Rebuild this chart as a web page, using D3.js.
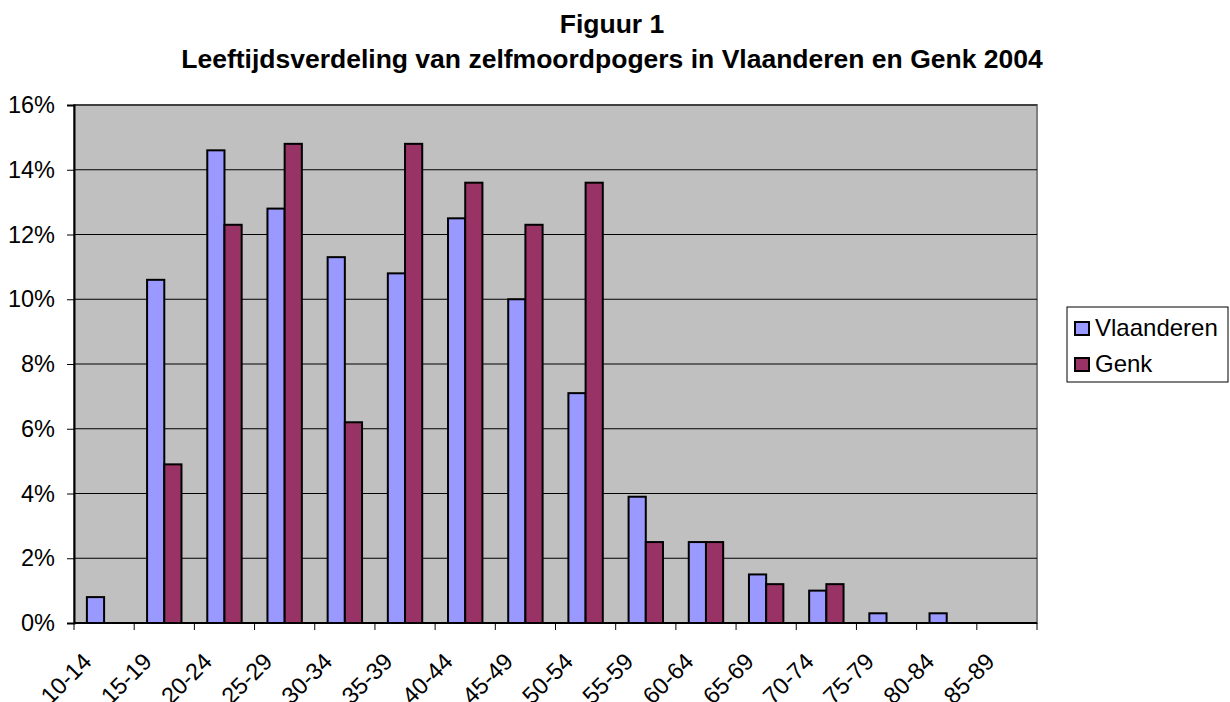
<!DOCTYPE html>
<html>
<head>
<meta charset="utf-8">
<script src="https://d3js.org/d3.v7.min.js"></script>
<style>
  body { margin: 0; background: #fff; }
  text { font-family: Arial, "Liberation Sans", sans-serif; }
</style>
</head>
<body>
<svg id="chart" width="1230" height="702"></svg>
<script>
// Age groups
const categories = ["10-14","15-19","20-24","25-29","30-34","35-39","40-44","45-49",
  "50-54","55-59","60-64","65-69","70-74","75-79","80-84","85-89"];
// Share of suicide attempters per age group (%)
const vlaanderen = [0.8, 10.6, 14.6, 12.8, 11.3, 10.8, 12.5, 10.0, 7.1, 3.9, 2.5, 1.5, 1.0, 0.3, 0.3, 0];
const genk       = [0, 4.9, 12.3, 14.8, 6.2, 14.8, 13.6, 12.3, 13.6, 2.5, 2.5, 1.2, 1.2, 0, 0, 0];
const seriesNames = ["Vlaanderen", "Genk"];
const seriesColors = ["#9999FF", "#993366"];
const yTicks = [0, 2, 4, 6, 8, 10, 12, 14, 16];

const svg = d3.select("#chart");
const plot = { left: 74, right: 1037, top: 105, bottom: 623 };

const x = d3.scaleBand().domain(categories).range([plot.left, plot.right]).paddingInner(0).paddingOuter(0);
const bw = x.bandwidth() / 3.5;
const xs = d3.scaleBand().domain(seriesNames).range([0, 2 * bw]);
const y = d3.scaleLinear().domain([0, 16]).range([plot.bottom, plot.top]);

// Title
const title = svg.append("g").attr("font-weight", "bold").attr("font-size", 26.5).attr("text-anchor", "middle");
title.append("text").attr("x", 612).attr("y", 33).text("Figuur 1");
title.append("text").attr("x", 612).attr("y", 68).text("Leeftijdsverdeling van zelfmoordpogers in Vlaanderen en Genk 2004");

// Plot area background
svg.append("rect")
  .attr("x", plot.left).attr("y", plot.top)
  .attr("width", plot.right - plot.left).attr("height", plot.bottom - plot.top)
  .attr("fill", "#C0C0C0").attr("stroke", "#808080").attr("stroke-width", 2);

// Gridlines
svg.append("g").selectAll("line").data(yTicks.filter(d => d > 0)).join("line")
  .attr("x1", plot.left).attr("x2", plot.right)
  .attr("y1", d => y(d)).attr("y2", d => y(d))
  .attr("stroke", "#000").attr("stroke-width", 1);

// Bars
const groups = svg.append("g").selectAll("g").data(categories).join("g")
  .attr("transform", c => `translate(${x(c) + (x.bandwidth() - 2 * bw) / 2},0)`);
groups.each(function(c, i) {
  const vals = [vlaanderen[i], genk[i]];
  d3.select(this).selectAll("rect").data(vals.map((v, k) => ({ v, k })).filter(d => d.v > 0)).join("rect")
    .attr("x", d => xs(seriesNames[d.k]))
    .attr("width", bw)
    .attr("y", d => y(d.v))
    .attr("height", d => y(0) - y(d.v))
    .attr("fill", d => seriesColors[d.k])
    .attr("stroke", "#000").attr("stroke-width", 2);
});

// Y axis
const yAxis = svg.append("g").attr("transform", `translate(${plot.left},0)`)
  .call(d3.axisLeft(y).tickValues(yTicks).tickFormat(d => d + "%").tickSize(7).tickPadding(12));
yAxis.select(".domain").attr("stroke", "#000").attr("stroke-width", 2);
yAxis.selectAll(".tick line").attr("stroke", "#000");
yAxis.selectAll("text").attr("font-size", 23.5).attr("fill", "#000")
  .attr("font-family", "Arial, 'Liberation Sans', sans-serif");

// X axis with ticks at category boundaries
const boundaries = d3.range(categories.length + 1).map(i => plot.left + i * x.bandwidth());
const xAxisG = svg.append("g");
xAxisG.append("line").attr("x1", plot.left).attr("x2", plot.right)
  .attr("y1", plot.bottom).attr("y2", plot.bottom).attr("stroke", "#000").attr("stroke-width", 2);
xAxisG.selectAll("line.tk").data(boundaries).join("line").attr("class", "tk")
  .attr("x1", d => d).attr("x2", d => d)
  .attr("y1", plot.bottom).attr("y2", plot.bottom + 7)
  .attr("stroke", "#000").attr("stroke-width", 1);
xAxisG.selectAll("text").data(categories).join("text")
  .attr("transform", c => `translate(${x(c) + x.bandwidth() / 2 - 11},${plot.bottom + 40}) rotate(-45)`)
  .attr("text-anchor", "end")
  .attr("font-size", 23.5).text(c => c);

// Legend
const lg = svg.append("g");
lg.append("rect").attr("x", 1067).attr("y", 307).attr("width", 161).attr("height", 75)
  .attr("fill", "#fff").attr("stroke", "#000").attr("stroke-width", 1);
seriesNames.forEach((name, k) => {
  const base = 336 + k * 36;
  lg.append("rect").attr("x", 1075).attr("y", base - 14).attr("width", 14).attr("height", 13)
    .attr("fill", seriesColors[k]).attr("stroke", "#000").attr("stroke-width", 2);
  lg.append("text").attr("x", 1095).attr("y", base).attr("font-size", 24).text(name);
});
</script>
</body>
</html>
